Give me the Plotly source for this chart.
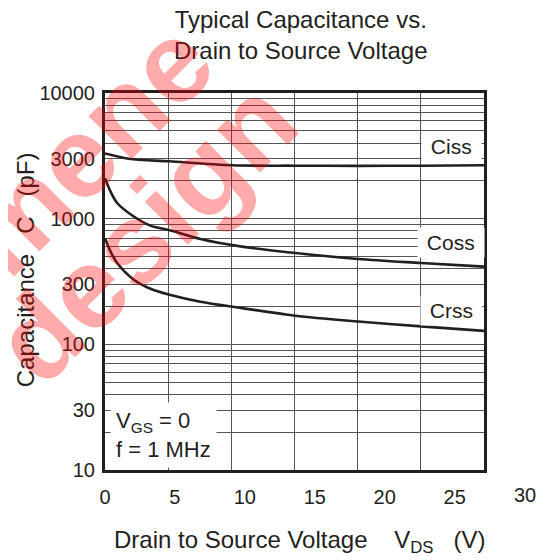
import math
import plotly.graph_objects as go

# ---------------- data ----------------
vds_ciss = [0, 1.7, 4.6, 9.1, 13.6, 18.1, 22.6, 27.1]
ciss = [3300, 3000, 2860, 2660, 2640, 2630, 2640, 2660]

vds_coss = [0, 0.4, 0.87, 2.06, 3.25, 4.63, 6.82, 9.68, 13.6, 18.1, 22.6, 27.1]
coss = [2100, 1640, 1333, 1040, 880, 810, 690, 602, 533, 478, 444, 415]

vds_crss = [0, 0.4, 0.87, 2.06, 3.25, 4.63, 6.82, 9.68, 13.6, 18.1, 22.6, 27.1]
crss = [700, 547, 444, 327, 277, 248, 218, 195, 169, 152, 139, 128]

x_tick_vals = [0, 5, 10, 15, 20, 25]
x_tick_text = ["0", "5", "10", "15", "20", "25"]
x_extra_label = "30"
y_tick_vals = [10, 30, 100, 300, 1000, 3000, 10000]
y_tick_text = ["10", "30", "100", "300", "1000", "3000", "10000"]

series_labels = ["Ciss", "Coss", "Crss"]
label_pos_x = [24.75, 24.75, 24.75]
label_pos_y = [3740, 644, 185]

# ---------------- styling ----------------
INK = "#231f20"
GRID = "#555555"
FONT = "Liberation Sans, Arial, sans-serif"
X_LABEL_MAX = 27.1

grid_vals = [m * 10 ** e for e in (1, 2, 3) for m in range(1, 10)] + [10000]

fig = go.Figure()

# empty trace anchoring the base (grid) axis
fig.add_trace(go.Scatter(x=[], y=[], xaxis="x", yaxis="y",
                         showlegend=False, hoverinfo="skip"))

for name, xs, ys in [("Ciss", vds_ciss, ciss), ("Coss", vds_coss, coss),
                     ("Crss", vds_crss, crss)]:
    fig.add_trace(go.Scatter(
        x=xs, y=ys, name=name, mode="lines", xaxis="x2", yaxis="y",
        line=dict(color=INK, width=2.6, shape="spline", smoothing=0.9),
        showlegend=False))

annotations = []
for t, ax_, ay_ in zip(series_labels, label_pos_x, label_pos_y):
    annotations.append(dict(
        text="\u00a0" + t + "\u00a0", x=ax_, y=math.log10(ay_),
        xref="x2", yref="y",
        showarrow=False, bgcolor="white", borderpad=3,
        font=dict(family=FONT, size=21, color=INK)))

# conditions box
annotations.append(dict(
    text="V<sub>GS</sub> = 0<br>f = 1 MHz", xref="paper", yref="paper",
    x=0.013, y=0.004, xanchor="left", yanchor="bottom", align="left",
    showarrow=False, bgcolor="white", borderpad=5,
    font=dict(family=FONT, size=22, color=INK)))

# "30" tick label placed beyond the frame, as in the reference
annotations.append(dict(
    text=x_extra_label, xref="paper", yref="paper",
    x=30 / X_LABEL_MAX, y=-0.065, xanchor="center", yanchor="middle",
    showarrow=False, font=dict(family=FONT, size=20, color=INK)))

# chart title
annotations.append(dict(
    text="Typical Capacitance vs.<br>Drain to Source Voltage",
    xref="paper", yref="paper", x=0.517, y=1.155,
    xanchor="center", yanchor="middle", showarrow=False,
    font=dict(family=FONT, size=24, color=INK)))

# y axis title
annotations.append(dict(
    text="Capacitance\u00a0\u00a0 C \u00a0\u00a0(pF)", xref="paper", yref="paper",
    x=-0.21, y=0.531, textangle=-90, showarrow=False,
    xanchor="center", yanchor="middle",
    font=dict(family=FONT, size=24, color=INK)))

# x axis title
annotations.append(dict(
    text="Drain to Source Voltage\u00a0\u00a0\u00a0 V<sub>DS</sub>\u00a0\u00a0 (V)",
    xref="paper", yref="paper", x=0.5145, y=-0.19, showarrow=False,
    xanchor="center", yanchor="middle",
    font=dict(family=FONT, size=24, color=INK)))

# watermark
for wtext, wx, wy in [("mene", -0.05, 0.855), ("design", 0.105, 0.635)]:
    annotations.append(dict(
        text="<b>" + wtext + "</b>", xref="paper", yref="paper",
        x=wx, y=wy, textangle=-45, showarrow=False,
        xanchor="center", yanchor="middle",
        font=dict(family="Liberation Sans, Arial, sans-serif", size=115,
                  color="rgba(255,0,0,0.33)")))

# the page body adds an 8px offset, so the figure is 8px smaller
fig.update_layout(
    width=538, height=552,
    margin=dict(l=97, r=62, t=85, b=90),
    paper_bgcolor="white", plot_bgcolor="white",
    showlegend=False,
    xaxis=dict(range=[0, 30], dtick=5, tick0=0, showgrid=True,
               gridcolor=GRID, gridwidth=1, showticklabels=False, ticks="",
               zeroline=False, showline=True, mirror=True,
               linecolor=INK, linewidth=3),
    xaxis2=dict(range=[0, X_LABEL_MAX], overlaying="x", anchor="y",
                side="bottom", tickmode="array", tickvals=x_tick_vals,
                ticktext=x_tick_text, showgrid=False, zeroline=False,
                ticks="", showline=False, ticklabelstandoff=13,
                tickfont=dict(family=FONT, size=20, color=INK)),
    yaxis=dict(type="log", range=[1, 4], tickmode="array",
               tickvals=y_tick_vals, ticktext=y_tick_text, showgrid=False,
               zeroline=False, ticks="", showline=True, mirror=True,
               linecolor=INK, linewidth=3, ticklabelstandoff=3,
               tickfont=dict(family=FONT, size=20, color=INK),
               minor=dict(tickmode="array", tickvals=grid_vals,
                          showgrid=True, gridcolor=GRID, gridwidth=1,
                          ticks="")),
    annotations=annotations,
)

fig.write_html("out.html")
